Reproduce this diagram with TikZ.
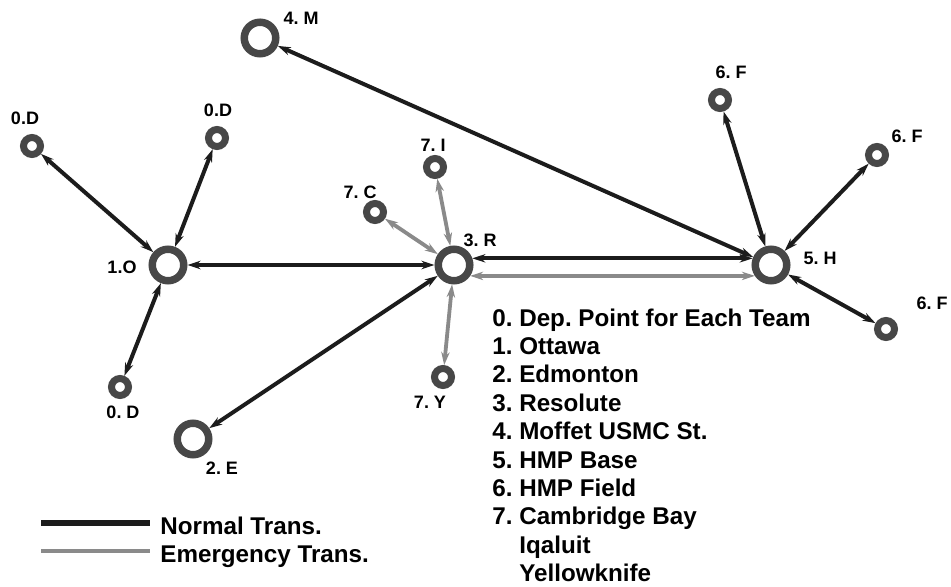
\documentclass[tikz,border=0pt]{standalone}
\usepackage{fontspec}
\setmainfont{Liberation Sans}
\usetikzlibrary{arrows.meta}
\frenchspacing

\definecolor{ringgray}{HTML}{474747}
\definecolor{normalline}{HTML}{1C1C1C}
\definecolor{emergline}{HTML}{8A8A8A}

\tikzset{
	hub/.style={circle, draw=ringgray, fill=white, line width=3.75pt, minimum size=15.75pt, inner sep=0pt},
	site/.style={circle, draw=ringgray, fill=white, line width=3.5pt, minimum size=8.5pt, inner sep=0pt},
	tag/.style={font=\fontsize{9}{10}\selectfont\bfseries, inner sep=0pt},
	keytext/.style={font=\fontsize{12.1}{14}\selectfont\bfseries, inner sep=0pt, anchor=base west},
	normaltrans/.style={normalline, line width=2pt, {Stealth[length=6.5pt,width=4.2pt]}-{Stealth[length=6.5pt,width=4.2pt]}},
	emergtrans/.style={emergline, line width=1.9pt, {Stealth[length=6.5pt,width=4.2pt]}-{Stealth[length=6.5pt,width=4.2pt]}}
}

\begin{document}
\begin{tikzpicture}[x=0.5pt, y=-0.5pt]
		\useasboundingbox (0,0) rectangle (951,587);
		
		%hubs
		\node[hub] (M) at (260,38) {};
		\node[hub] (O) at (168,265) {};
		\node[hub] (E) at (193,439) {};
		\node[hub] (R) at (454,265) {};
		\node[hub] (H) at (771,265) {};
		
		%departure points and field sites
		\node[site] (D1) at (32,146) {};
		\node[site] (D2) at (217,138) {};
		\node[site] (D3) at (120,387) {};
		\node[site] (C) at (375,212) {};
		\node[site] (I) at (435,167) {};
		\node[site] (Y) at (443,377) {};
		\node[site] (F1) at (720,100) {};
		\node[site] (F2) at (877,155) {};
		\node[site] (F3) at (886,329) {};
		
		%labels
		\node[tag] (lM) at (301,18) {4. M};
		\node[tag] (lD1) at (25,118) {0.D};
		\node[tag] (lD2) at (218,110) {0.D};
		\node[tag] (lO) at (122,267) {1.O};
		\node[tag] (lD3) at (123,412) {0. D};
		\node[tag] (lE) at (222,468) {2. E};
		\node[tag] (lR) at (480,240) {3. R};
		\node[tag] (lC) at (360,192) {7. C};
		\node[tag] (lI) at (433,145) {7. I};
		\node[tag] (lY) at (430,402) {7. Y};
		\node[tag] (lH) at (820,258) {5. H};
		\node[tag] (lF1) at (731,72) {6. F};
		\node[tag] (lF2) at (907,136) {6. F};
		\node[tag] (lF3) at (932,303) {6. F};
		
		%normal routes
		\draw[normaltrans] (O) -- (D1);
		\draw[normaltrans] (O) -- (D2);
		\draw[normaltrans] (O) -- (D3);
		\draw[normaltrans] (O) -- (R);
		\draw[normaltrans] (R) -- (E);
		\draw[normaltrans] (R.20) -- (H.160);
		\draw[normaltrans] (M) -- (H);
		\draw[normaltrans] (H) -- (F1);
		\draw[normaltrans] (H) -- (F2);
		\draw[normaltrans] (H) -- (F3);
		
		%emergency routes
		\draw[emergtrans] (R) -- (C);
		\draw[emergtrans] (R) -- (I);
		\draw[emergtrans] (R) -- (Y);
		\draw[emergtrans] (R.-34) -- (H.-146);
		
		%key
		\foreach \t [count=\i from 0] in {0. Dep. Point for Each Team, 1. Ottawa, 2. Edmonton, 3. Resolute, 4. Moffet USMC St., 5. HMP Base, 6. HMP Field, 7. Cambridge Bay, \phantom{7. }Iqaluit, \phantom{7. }Yellowknife}{
			\node[keytext] (item\i) at (492, 326+28.4*\i) {\t};
		}
		
		\draw[normalline, line width=2.8pt] (41,523) -- (150,523);
		\node[keytext] (keyN) at (160,534) {Normal Trans.};
		\draw[emergline, line width=2.3pt] (41,551) -- (150,551);
		\node[keytext] (keyE) at (160,562) {Emergency Trans.};
\end{tikzpicture}
\end{document}
